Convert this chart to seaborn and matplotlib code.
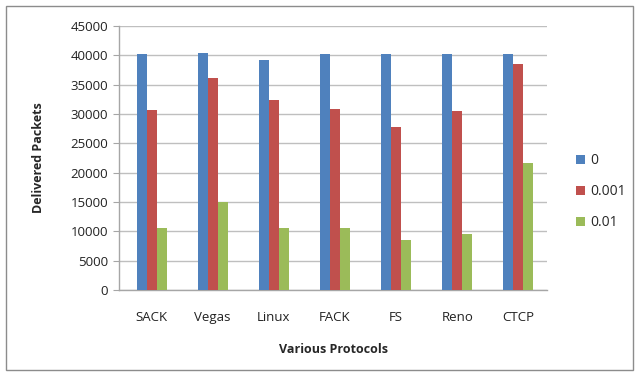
import matplotlib
matplotlib.use("Agg")
import matplotlib.pyplot as plt
import seaborn as sns
import pandas as pd
from matplotlib.patches import Rectangle

protocols = ["SACK", "Vegas", "Linux", "FACK", "FS", "Reno", "CTCP"]
loss_rates = ["0", "0.001", "0.01"]
loss_0 = [40200, 40450, 39300, 40200, 40200, 40200, 40200]
loss_0001 = [30700, 36100, 32400, 30800, 27800, 30500, 38600]
loss_001 = [10500, 14950, 10500, 10500, 8500, 9550, 21600]

colors = ["#4F81BD", "#C0504D", "#9BBB59"]

df = pd.DataFrame({
    "Protocol": protocols * 3,
    "Loss": [loss_rates[0]] * 7 + [loss_rates[1]] * 7 + [loss_rates[2]] * 7,
    "Packets": loss_0 + loss_0001 + loss_001,
})

sns.set_style("white")
plt.rcParams["font.family"] = ["Open Sans", "DejaVu Sans"]

fig = plt.figure(figsize=(6.37, 3.73), dpi=100)
ax = fig.add_axes([0.187, 0.2225, 0.672, 0.7075])

sns.barplot(data=df, x="Protocol", y="Packets", hue="Loss",
            palette=colors, width=0.49, gap=0, ax=ax,
            errorbar=None, saturation=1, linewidth=0, zorder=3)

ax.set_ylim(0, 45000)
ax.set_yticks(range(0, 45001, 5000))
ax.set_xlim(-0.53, 6.47)
ax.grid(axis="y", color="#BFBFBF", linewidth=1, zorder=0)
ax.set_axisbelow(True)
for side in ["top", "right"]:
    ax.spines[side].set_visible(False)
for side in ["left", "bottom"]:
    ax.spines[side].set_color("#A6A6A6")
    ax.spines[side].set_linewidth(1)
ax.tick_params(axis="y", length=4, color="#A6A6A6", labelsize=9.5, pad=4, labelcolor="#222222", left=True)
ax.tick_params(axis="x", length=0, labelsize=9.5, pad=15, labelcolor="#222222")

ax.set_ylabel("Delivered Packets", fontsize=9, fontweight="bold", labelpad=18)
ax.set_xlabel("Various Protocols", fontsize=9, fontweight="bold", labelpad=14)

leg = ax.legend(loc="center left", bbox_to_anchor=(1.055, 0.372), frameon=False,
                fontsize=10, handlelength=0.65, handleheight=0.65,
                handletextpad=0.35, labelspacing=1.15, borderaxespad=0)

fig.patches.append(Rectangle((0.009, 0.008), 0.985, 0.975, transform=fig.transFigure,
                             fill=False, edgecolor="#8C8C8C", linewidth=1))

fig.savefig("out.png", dpi=100)
